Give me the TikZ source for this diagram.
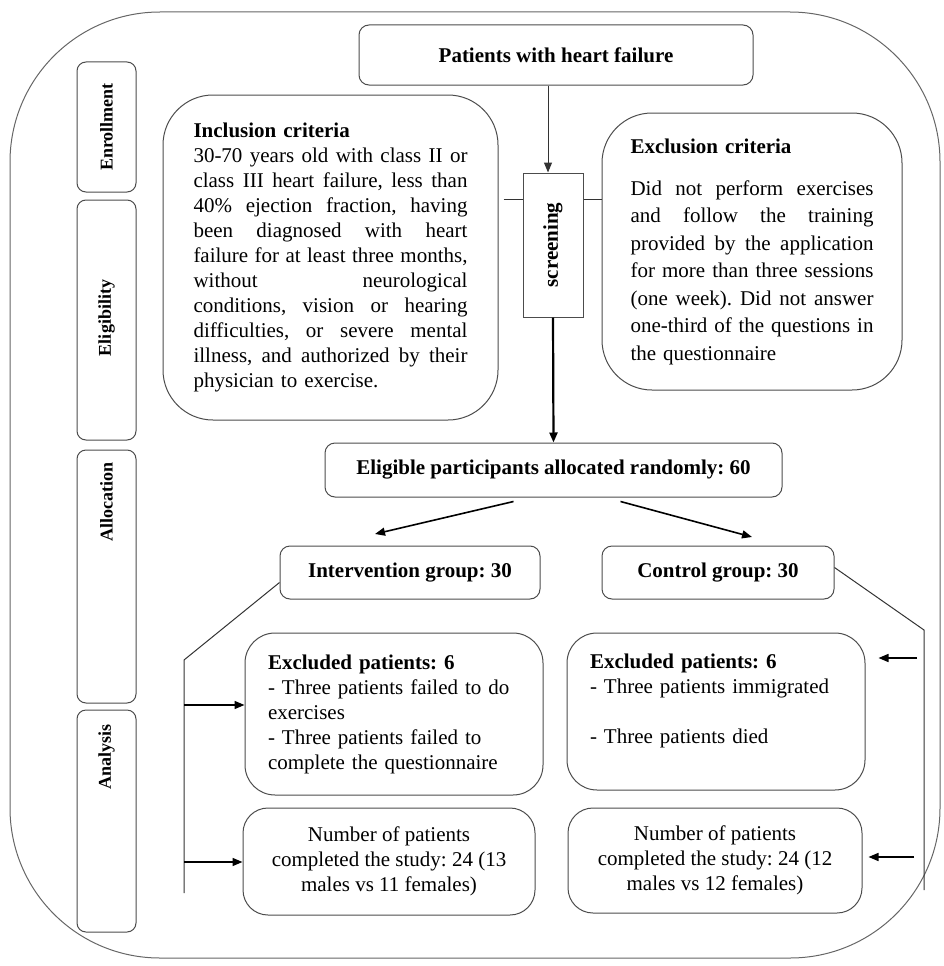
\documentclass[tikz,border=0pt]{standalone}
\usepackage{fontspec}
\setmainfont{Liberation Serif}
\usetikzlibrary{arrows.meta, positioning, calc}
\setlength{\parindent}{0pt}
\frenchspacing
\newcommand{\bodyfont}{\fontsize{21}{25}\selectfont}
\newcommand{\jline}[2][274pt]{\makebox[#1][s]{\spaceskip=0pt\xspaceskip=0pt #2}}

\begin{document}
\begin{tikzpicture}[
    x=1pt, y=-1pt,
    box/.style={draw=black!70, line width=1pt, rounded corners=10pt, align=center,
                font=\bodyfont, inner sep=0pt},
    crit/.style={box, rounded corners=50pt, align=left},
    stage/.style={draw=black!70, line width=1pt, rounded corners=9pt, minimum width=59pt},
    stagelabel/.style={font=\fontsize{18}{20}\selectfont\bfseries, inner sep=0pt},
    link/.style={draw=black!80, line width=1pt},
    arrow/.style={-{Triangle[length=10pt, width=8pt]}, line width=1.6pt},
]
    \useasboundingbox (0,0) rectangle (943,966);
    \draw[black!60, line width=1pt, rounded corners=150pt] (10,12) rectangle (940,958);

    \node[stage, minimum height=130pt] (enrolbox) at (106.5,127) {};
    \node[stage, minimum height=240pt] (eligbox) at (106.5,320) {};
    \node[stage, minimum height=253pt] (allocbox) at (106.5,576.5) {};
    \node[stage, minimum height=222pt] (analbox) at (106.5,821) {};
    \node[stagelabel] (enrollab) at (106.5,127) {\rotatebox{90}{Enrollment}};
    \node[stagelabel] (eliglab) at (106.5,318) {\rotatebox{90}{Eligibility}};
    \node[stagelabel] (alloclab) at (106.5,502) {\rotatebox{90}{Allocation}};
    \node[stagelabel] (anallab) at (106.5,757) {\rotatebox{90}{Analysis}};

    \node[box, minimum width=394pt, minimum height=60pt] (patients) at (556,55)
        {\textbf{Patients with heart failure}};
    \node[box, rounded corners=0pt, minimum width=60pt, minimum height=144pt] (screen) at (553,245)
        {\rotatebox{90}{\textbf{screening}}};
    \node[crit, text width=274pt, minimum width=335pt, minimum height=325pt] (incl) at (330.5,257.5)
        {\textbf{Inclusion criteria}\\
         \jline{30-70 years old with class II or}\\
         \jline{class III heart failure, less than}\\
         \jline{40\% ejection fraction, having}\\
         \jline{been diagnosed with heart}\\
         \jline{failure for at least three months,}\\
         \jline{without neurological}\\
         \jline{conditions, vision or hearing}\\
         \jline{difficulties, or severe mental}\\
         \jline{illness, and authorized by their}\\
         physician to exercise.};
    \node[crit, font=\fontsize{21}{27.5}\selectfont, text width=243pt, minimum width=300pt,
          minimum height=277pt] (excl) at (752,251.5)
        {\textbf{Exclusion criteria}\\[14.5pt]
         \jline[243pt]{Did not perform exercises}\\
         \jline[243pt]{and follow the training}\\
         \jline[243pt]{provided by the application}\\
         \jline[243pt]{for more than three sessions}\\
         \jline[243pt]{(one week). Did not answer}\\
         \jline[243pt]{one-third of the questions in}\\
         the questionnaire};

    \node[box, minimum width=457pt, minimum height=54pt] (elig) at (553.5,470)
        {\textbf{Eligible participants allocated randomly: 60}};
    \node[box, minimum width=260pt, minimum height=53pt] (inter) at (410,572.5)
        {\textbf{Intervention group: 30}};
    \node[box, minimum width=232pt, minimum height=53pt] (ctrl) at (718,572.5)
        {\textbf{Control group: 30}};

    \node[box, rounded corners=30pt, align=left, text width=252pt, minimum width=298pt,
          minimum height=162pt] (exclL) at (394,714)
        {\textbf{Excluded patients: 6}\\
         - Three patients failed to do\\
         exercises\\
         - Three patients failed to\\
         complete the questionnaire};
    \node[box, rounded corners=25pt, minimum width=292pt, minimum height=107pt] (numL) at (389,861.5)
        {Number of patients\\completed the study: 24 (13\\males vs 11 females)};
    \node[box, rounded corners=30pt, align=left, text width=252pt, minimum width=298pt,
          minimum height=157pt] (exclR) at (716,711.5)
        {\textbf{Excluded patients: 6}\\
         - Three patients immigrated\\[25pt]
         - Three patients died\\
         \mbox{}};
    \node[box, rounded corners=25pt, minimum width=294pt, minimum height=105pt] (numR) at (715,860.5)
        {Number of patients\\completed the study: 24 (12\\males vs 12 females)};

    \coordinate (ax) at (548,0);
    \coordinate (sy) at (0,199);
    \coordinate (splitL) at (375,534);
    \coordinate (splitR) at (752,537);
    \coordinate (lbtop) at (184,660);
    \coordinate (lbbot) at (184,893);
    \coordinate (la1) at (184,705);
    \coordinate (la2) at (184,862);
    \coordinate (rbtop) at (924,630);
    \coordinate (rbbot) at (924,890);
    \coordinate (ra1) at (917,658);
    \coordinate (ra2) at (914,857);

    \draw[link, -{Triangle[length=10pt, width=8pt]}] (patients.south -| ax) -- (screen.north -| ax);
    \draw[link] ([xshift=5pt]incl.east |- sy) -- (screen.west |- sy);
    \draw[link] (screen.east |- sy) -- (excl.west |- sy);
    \draw[arrow, line width=2.2pt] (screen.south) -- (elig.north);
    \draw[arrow] ([xshift=-40pt, yshift=-4pt]elig.south) -- (splitL);
    \draw[arrow] ([xshift=67pt, yshift=-4pt]elig.south) -- (splitR);

    \draw[link] ([yshift=-10pt]inter.west) -- (lbtop) -- (lbbot);
    \draw[arrow] (la1) -- (exclL.west |- la1);
    \draw[arrow] (la2) -- (numL.west |- la2);
    \draw[link] ([yshift=5pt]ctrl.east) -- (rbtop) -- (rbbot);
    \draw[arrow] (ra1) -- ([xshift=13pt]exclR.east |- ra1);
    \draw[arrow] (ra2) -- ([xshift=6pt]numR.east |- ra2);
\end{tikzpicture}
\end{document}
